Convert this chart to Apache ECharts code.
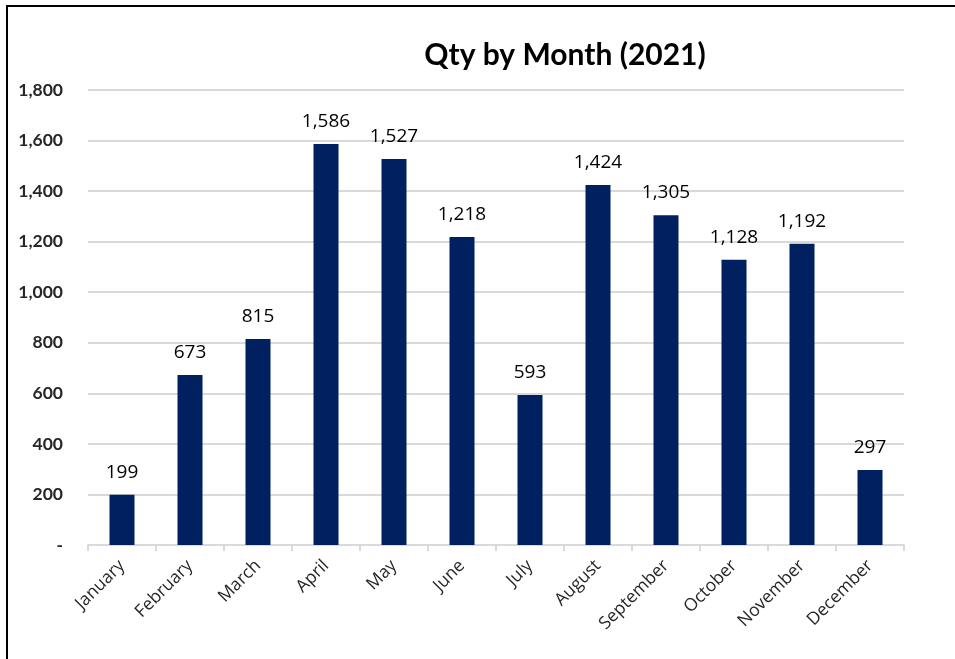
<!DOCTYPE html>
<html>
<head>
<meta charset="utf-8">
<script src="https://cdn.jsdelivr.net/npm/echarts@6/dist/echarts.min.js"></script>
<style>
  html, body { margin: 0; padding: 0; background: #fff; }
  #chart { width: 955px; height: 659px; }
</style>
</head>
<body>
<div id="chart"></div>
<script>
  const months = ['January', 'February', 'March', 'April', 'May', 'June',
    'July', 'August', 'September', 'October', 'November', 'December'];
  const qty = [199, 673, 815, 1586, 1527, 1218, 593, 1424, 1305, 1128, 1192, 297];

  const myChart = echarts.init(document.getElementById('chart'));

  const fmt = (v) => (v === 0 ? '-' : v.toLocaleString('en-US'));

  const option = {
    backgroundColor: '#ffffff',
    animation: false,
    title: {
      text: 'Qty by Month (2021)',
      left: 560,
      top: 35,
      textAlign: 'center',
      textStyle: {
        fontFamily: 'Lato',
        fontWeight: 'bold',
        fontSize: 30,
        color: '#000000',
      },
    },
    graphic: [
      {
        type: 'polyline',
        shape: { points: [[7, 659], [7, 6], [955, 6]] },
        style: { stroke: '#000000', lineWidth: 2, fill: null },
      },
    ],
    grid: {
      left: 88,
      right: 51,
      top: 90,
      bottom: 114,
    },
    xAxis: {
      type: 'category',
      data: months,
      axisLine: { lineStyle: { color: '#d9d9d9', width: 2 } },
      axisTick: { show: true, length: 6, lineStyle: { color: '#d9d9d9', width: 2 } },
      axisLabel: {
        rotate: 45,
        interval: 0,
        margin: 18,
        color: '#262626',
        fontFamily: 'Open Sans',
        fontSize: 17.5,
      },
    },
    yAxis: {
      type: 'value',
      min: 0,
      max: 1800,
      interval: 200,
      axisLine: { show: false },
      axisTick: { show: false },
      splitLine: { lineStyle: { color: '#d9d9d9', width: 2 } },
      axisLabel: {
        formatter: fmt,
        margin: 25,
        color: '#262626',
        fontFamily: 'Lato',
        fontWeight: 'bold',
        fontSize: 17.5,
      },
    },
    series: [
      {
        type: 'bar',
        data: qty,
        barWidth: 25,
        itemStyle: { color: '#002060' },
        label: {
          show: true,
          position: 'top',
          distance: 13,
          formatter: (p) => fmt(p.value),
          color: '#000000',
          fontFamily: 'Open Sans',
          fontSize: 19,
        },
      },
    ],
  };

  myChart.setOption(option);
</script>
</body>
</html>
